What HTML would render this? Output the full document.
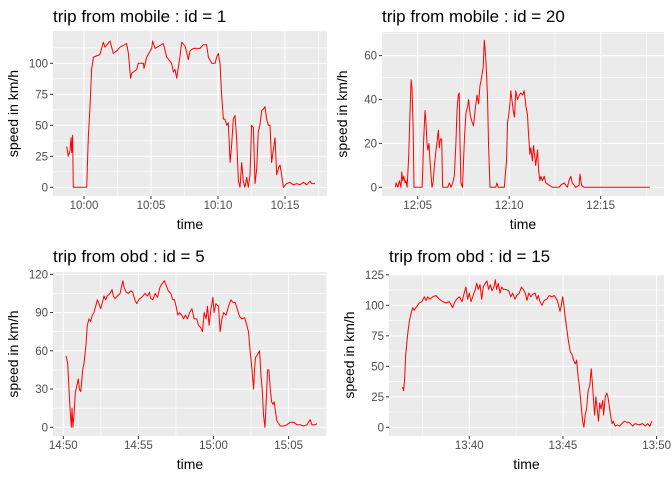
<!DOCTYPE html>
<html><head><meta charset="utf-8"><style>
body{margin:0;background:#fff;}
svg{display:block;font-family:"Liberation Sans",Arial,sans-serif;}
</style></head><body>
<svg id="chart" width="672" height="480" viewBox="0 0 672 480" xmlns="http://www.w3.org/2000/svg"></svg>
<script>
// Panel 1: trip from mobile id=1 (minutes after 10:00)
const p1Time=[-1.29,-1.17,-1.04,-0.97,-0.92,-0.85,-0.80,0.20,0.25,0.32,0.45,0.57,0.70,1.19,1.44,1.57,1.94,2.19,2.44,2.69,3.18,3.31,3.48,3.56,3.93,4.05,4.43,4.48,4.68,5.05,5.12,5.30,5.92,6.17,6.54,6.67,6.79,6.92,7.16,7.29,7.54,7.79,7.91,8.16,8.66,8.91,9.15,9.28,9.53,9.78,9.90,10.02,10.15,10.27,10.40,10.52,10.65,10.77,10.90,11.02,11.14,11.27,11.39,11.52,11.64,11.77,11.89,12.01,12.14,12.26,12.39,12.51,12.64,12.76,12.89,13.01,13.13,13.26,13.38,13.51,13.63,13.76,13.88,14.00,14.13,14.25,14.38,14.50,14.63,14.75,14.88,15.12,15.37,15.62,15.87,16.12,16.37,16.62,16.87,16.99,17.24];
const p1Speed=[33,25,30,40,28,42,0,0,15,40,65,95,105,107,117,113,118,108,110,113,116,108,88,92,95,100,100,96,105,112,118,112,116,105,100,93,95,88,105,117,114,103,110,112,112,115,115,105,100,100,105,108,100,75,55,55,50,52,20,35,55,58,40,5,0,20,5,0,8,0,10,50,48,3,15,45,50,62,63,65,55,50,50,20,30,40,10,15,18,10,0,3,4,2,3,2,4,2,5,3,3];
// Panel 2: trip from mobile id=20 (minutes after 12:00)
const p2Time=[3.78,3.82,3.91,4.00,4.09,4.13,4.18,4.24,4.31,4.36,4.42,4.51,4.56,4.64,4.69,4.75,4.80,4.91,5.24,5.27,5.33,5.40,5.45,5.51,5.56,5.62,5.67,5.73,5.78,5.84,5.91,6.00,6.09,6.13,6.18,6.24,6.31,6.36,6.64,6.73,6.82,6.91,7.00,7.09,7.15,7.22,7.27,7.31,7.36,7.45,7.55,7.64,7.73,7.78,7.87,7.96,8.05,8.15,8.24,8.33,8.40,8.49,8.58,8.64,8.71,8.76,8.82,8.87,8.95,9.27,9.33,9.40,9.73,9.78,9.85,9.91,9.96,10.04,10.09,10.15,10.22,10.29,10.36,10.45,10.55,10.64,10.73,10.82,10.91,11.00,11.05,11.13,11.18,11.27,11.33,11.40,11.45,11.55,11.60,11.67,11.73,11.82,11.91,12.00,12.18,12.36,12.73,12.82,13.00,13.18,13.27,13.36,13.45,13.55,13.64,13.82,13.87,13.95,14.09,17.69];
const p2Speed=[0,2,0,3,0,7,3,5,2,3,0,14,28,49,45,28,0,0,0,6,22,35,30,20,17,20,12,5,0,2,10,17,23,26,18,22,22,0,0,2,0,2,5,20,35,42,43,20,2,0,22,34,37,40,33,30,28,36,42,38,46,50,55,67,60,52,40,20,0,0,2,0,0,5,12,30,32,38,44,40,35,32,44,40,42,43,42,44,37,33,25,15,18,12,19,14,10,17,8,3,5,3,5,2,1,0,0,1,2,0,3,5,2,1,0,1,6,1,0,0];
// Panel 3: trip from obd id=5 (minutes after 14:50)
const p3Time=[0.18,0.29,0.40,0.47,0.53,0.58,0.64,0.71,0.80,0.89,1.00,1.07,1.16,1.22,1.29,1.38,1.51,1.60,1.71,1.82,1.93,2.04,2.16,2.27,2.38,2.49,2.60,2.71,2.82,2.93,3.11,3.24,3.33,3.44,3.60,3.78,3.96,4.04,4.18,4.33,4.49,4.62,4.76,4.89,5.02,5.22,5.44,5.60,5.73,5.82,5.96,6.11,6.27,6.44,6.60,6.73,6.89,7.00,7.16,7.29,7.40,7.51,7.62,7.73,7.89,8.00,8.13,8.27,8.40,8.56,8.71,8.89,9.00,9.16,9.27,9.38,9.51,9.60,9.71,9.82,9.96,10.04,10.16,10.22,10.33,10.44,10.56,10.67,10.84,11.00,11.16,11.29,11.44,11.60,11.73,11.89,12.07,12.22,12.33,12.44,12.56,12.67,12.73,12.80,12.93,13.07,13.16,13.24,13.33,13.42,13.49,13.60,13.69,13.78,13.87,13.96,14.04,14.13,14.22,14.33,14.44,14.67,14.89,15.11,15.33,15.56,15.78,16.00,16.22,16.44,16.56,16.78,16.89];
const p3Speed=[56,50,25,10,0,15,0,10,27,32,38,30,28,35,45,50,65,80,85,83,88,90,95,100,97,93,98,103,100,103,105,108,103,101,103,105,115,110,106,105,107,106,100,97,100,102,105,103,106,101,100,105,102,110,113,115,110,107,105,100,100,95,88,90,88,85,88,85,90,93,85,85,80,78,75,90,85,95,80,92,102,90,97,96,95,75,85,90,88,95,100,98,98,92,87,85,86,80,75,60,45,30,45,55,57,60,40,30,10,0,15,45,45,30,20,18,20,12,5,3,1,1,2,4,4,2,2,1,2,6,2,2,3];
// Panel 4: trip from obd id=15 (minutes relative to 13:40)
const p4Time=[-3.56,-3.51,-3.45,-3.40,-3.33,-3.26,-3.19,-3.11,-3.02,-2.94,-2.85,-2.76,-2.67,-2.53,-2.40,-2.31,-2.22,-2.10,-1.96,-1.78,-1.60,-1.42,-1.25,-1.07,-0.89,-0.80,-0.68,-0.53,-0.39,-0.27,-0.18,-0.09,0,0.09,0.21,0.32,0.39,0.48,0.57,0.66,0.75,0.85,0.94,1.03,1.12,1.21,1.33,1.39,1.46,1.55,1.64,1.73,1.83,1.96,2.10,2.22,2.31,2.44,2.53,2.67,2.78,2.88,2.99,3.08,3.17,3.29,3.38,3.51,3.61,3.68,3.77,3.88,4.00,4.13,4.27,4.41,4.54,4.63,4.72,4.84,4.91,4.98,5.05,5.12,5.21,5.28,5.39,5.48,5.57,5.66,5.73,5.82,5.87,5.96,6.05,6.12,6.19,6.26,6.35,6.44,6.51,6.58,6.64,6.69,6.76,6.83,6.90,6.96,7.03,7.12,7.17,7.26,7.33,7.38,7.47,7.54,7.62,7.69,7.79,7.92,8.01,8.15,8.27,8.42,8.54,8.72,8.86,9.07,9.25,9.40,9.52,9.64,9.75];
const p4Speed=[33,30,40,58,70,80,88,93,98,96,98,100,102,103,107,104,107,105,107,108,105,103,102,103,98,102,105,107,103,110,115,105,110,103,108,113,118,113,117,105,115,118,120,113,117,112,116,121,113,118,110,115,113,113,112,107,110,105,108,110,115,113,110,104,110,107,109,110,105,108,103,100,104,105,108,107,108,106,103,95,100,107,100,90,80,72,62,60,55,52,55,40,35,20,5,0,10,15,30,35,48,35,20,10,25,15,5,20,15,22,10,25,28,27,18,10,3,5,1,2,1,3,5,4,4,1,3,2,3,1,3,1,5];

const NS="http://www.w3.org/2000/svg";
const svg=document.getElementById('chart');
function mk(tag,attrs,parent){const e=document.createElementNS(NS,tag);for(const k in attrs)e.setAttribute(k,attrs[k]);(parent||svg).appendChild(e);return e;}

const panels=[
 {key:'mobile-1',title:'trip from mobile : id = 1',L:53,R:327,T:31,B:196,x0:84,xs:13.4,y0:187.3,ys:1.24,
  xMaj:[0,5,10,15],xLab:['10:00','10:05','10:10','10:15'],xMin:[-2.5,2.5,7.5,12.5,17.5],
  yMaj:[0,25,50,75,100],yMin:[12.5,37.5,62.5,87.5,112.5],t:p1Time,v:p1Speed,ty:22},
 {key:'mobile-20',title:'trip from mobile : id = 20',L:382,R:664,T:32,B:196,x0:417.7-5*18.3,xs:18.3,y0:187.3,ys:2.195,
  xMaj:[5,10,15],xLab:['12:05','12:10','12:15'],xMin:[7.5,12.5,17.5],
  yMaj:[0,20,40,60],yMin:[10,30,50,70],t:p2Time,v:p2Speed,ty:22},
 {key:'obd-5',title:'trip from obd : id = 5',L:53,R:327,T:272,B:436,x0:63.3,xs:15.02,y0:427.3,ys:1.275,
  xMaj:[0,5,10,15],xLab:['14:50','14:55','15:00','15:05'],xMin:[2.5,7.5,12.5,17.5],
  yMaj:[0,30,60,90,120],yMin:[15,45,75,105],t:p3Time,v:p3Speed,ty:262},
 {key:'obd-15',title:'trip from obd : id = 15',L:389,R:664,T:274,B:436,x0:469.3,xs:18.73,y0:427.3,ys:1.22,
  xMaj:[0,5,10],xLab:['13:40','13:45','13:50'],xMin:[-2.5,2.5,7.5],
  yMaj:[0,25,50,75,100,125],yMin:[12.5,37.5,62.5,87.5,112.5],t:p4Time,v:p4Speed,ty:262}
];

panels.forEach(p=>{
  const g=mk('g',{});
  
  
  const X=m=>p.x0+m*p.xs, Y=v=>p.y0-v*p.ys;
  const bg=mk('rect',{x:p.L,y:p.T,width:p.R-p.L,height:p.B-p.T,fill:'#EBEBEB'},g);
  
  
  p.yMin.forEach(v=>{const y=Y(v);if(y>p.T&&y<p.B){const l=mk('line',{x1:p.L,x2:p.R,y1:y,y2:y,stroke:'#fff','stroke-width':0.55},g);}});
  p.xMin.forEach(m=>{const x=X(m);if(x>p.L&&x<p.R){const l=mk('line',{x1:x,x2:x,y1:p.T,y2:p.B,stroke:'#fff','stroke-width':0.55},g);}});
  p.yMaj.forEach(v=>{const y=Y(v);
    const l=mk('line',{x1:p.L,x2:p.R,y1:y,y2:y,stroke:'#fff','stroke-width':1.1},g);
    
    
    mk('line',{x1:p.L-3,x2:p.L,y1:y,y2:y,stroke:'#333','stroke-width':1},g);
    const t=mk('text',{x:p.L-5,y:y+4,'text-anchor':'end','font-size':11.5,fill:'#4D4D4D'},g);
    t.textContent=v;
    
    });
  p.xMaj.forEach((m,i)=>{const x=X(m);
    const l=mk('line',{x1:x,x2:x,y1:p.T,y2:p.B,stroke:'#fff','stroke-width':1.1},g);
    
    
    mk('line',{x1:x,x2:x,y1:p.B,y2:p.B+3,stroke:'#333','stroke-width':1},g);
    const t=mk('text',{x:x,y:p.B+13,'text-anchor':'middle','font-size':11.5,fill:'#4D4D4D'},g);
    t.textContent=p.xLab[i];
    
    });
  const pts=p.t.map((m,i)=>X(m).toFixed(1)+','+Y(p.v[i]).toFixed(1)).join(' ');
  const line=mk('polyline',{points:pts,fill:'none',stroke:'#FF0000','stroke-width':1,'stroke-linejoin':'round'},g);
  
  
  const ti=mk('text',{x:p.L,y:p.ty,'font-size':17,fill:'#000'},g);
  ti.textContent=p.title;
  
  
  const xt=mk('text',{x:(p.L+p.R)/2,y:p.B+33,'text-anchor':'middle','font-size':14,fill:'#000'},g);
  xt.textContent='time';
  
  
  const yx=p.L-35, yy=(p.T+p.B)/2;
  const yt=mk('text',{x:yx,y:yy,'text-anchor':'middle','font-size':14,fill:'#000',transform:`rotate(-90 ${yx} ${yy})`},g);
  yt.textContent='speed in km/h';
  
  
});
</script>
</body></html>
